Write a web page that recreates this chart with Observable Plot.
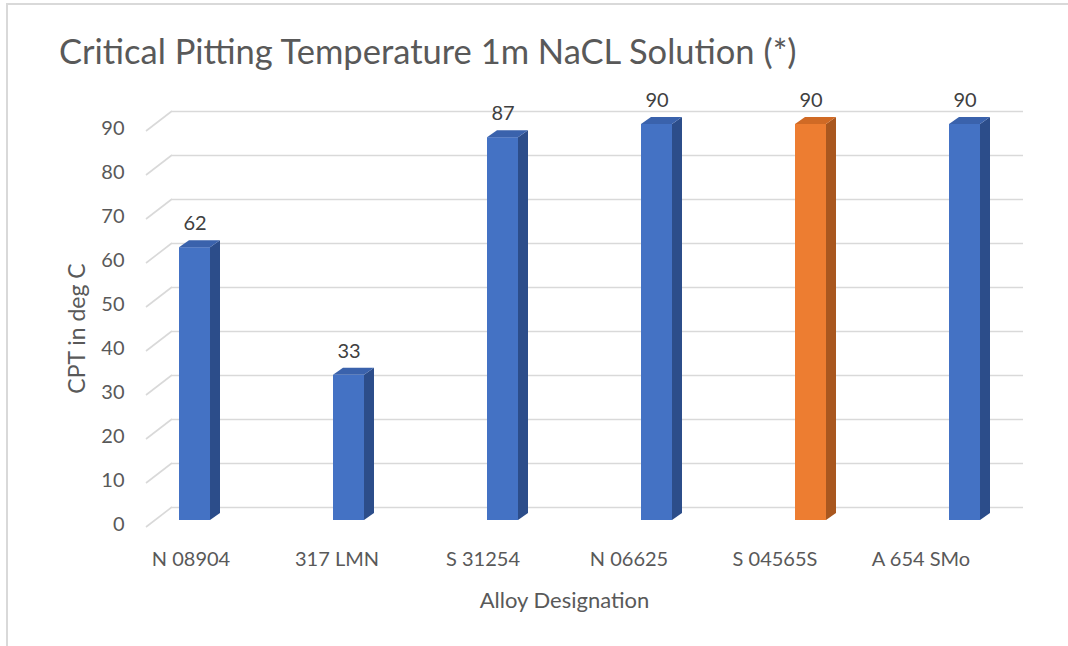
<!DOCTYPE html>
<html><head><meta charset="utf-8">
<script src="https://cdn.jsdelivr.net/npm/d3@7"></script>
<script src="https://cdn.jsdelivr.net/npm/@observablehq/plot@0.6"></script>
<style>
html,body{margin:0;padding:0;background:#fff;}
#wrap{position:relative;width:1068px;height:646px;overflow:hidden;font-family:Lato,"Open Sans",sans-serif;}
#border{position:absolute;left:6px;top:3px;width:1200px;height:800px;border-left:2px solid #d9d9d9;border-top:2px solid #d9d9d9;}
#title{position:absolute;left:59px;top:31px;font-size:34.5px;line-height:40px;color:#595959;white-space:nowrap;}
#main{position:absolute;left:0;top:90px;}
#xlab{position:absolute;left:0;top:540px;}
</style></head><body>
<div id="wrap"><div id="border"></div><div id="title"></div><div id="main"></div><div id="xlab"></div></div>
<script>
const titleText = "Critical Pitting Temperature 1m NaCL Solution (*)";
const yTitle = "CPT in deg C";
const xTitle = "Alloy Designation";
const categories = ["N 08904", "317 LMN", "S 31254", "N 06625", "S 04565S", "A 654 SMo"];
const cptValues = [62, 33, 87, 90, 90, 90];
const yTicks = [0, 10, 20, 30, 40, 50, 60, 70, 80, 90];
const highlighted = "S 04565S";

const rows = categories.map((cat, i) => ({cat, value: cptValues[i]}));
const pal = {
  blue: {front: "#4472C4", side: "#2C4D8A", top: "#3A62AC"},
  orange: {front: "#ED7D31", side: "#A9571F", top: "#D06A25"}
};
const colorOf = d => (d.cat === highlighted ? pal.orange : pal.blue);
const TXT = "#595959";
const GRID = "#d9d9d9";
const DEPTH_X = 10, DEPTH_Y = 7;

document.getElementById("title").textContent = titleText;

function gridDiagonals(index, scales, values, dims) {
  const y = scales.y;
  const g = d3.create("svg:g").attr("stroke", GRID).attr("stroke-width", 1.6);
  const xl = dims.marginLeft;
  yTicks.forEach(v => {
    g.append("line").attr("x1", xl - 26).attr("y1", y(v) + 7).attr("x2", xl).attr("y2", y(v) - 13);
  });
  return g.node();
}

function barFaces(index, scales, values, dims) {
  const x = scales.x, y = scales.y;
  const bw = x.bandwidth();
  const g = d3.create("svg:g");
  rows.forEach(d => {
    const x0 = x(d.cat), x1 = x0 + bw, yt = y(d.value), yb = y(0);
    const c = colorOf(d);
    g.append("path")
      .attr("d", `M${x1},${yt}L${x1 + DEPTH_X},${yt - DEPTH_Y}L${x1 + DEPTH_X},${yb - DEPTH_Y}L${x1},${yb}Z`)
      .attr("fill", c.side);
    g.append("path")
      .attr("d", `M${x0},${yt}L${x0 + DEPTH_X},${yt - DEPTH_Y}L${x1 + DEPTH_X},${yt - DEPTH_Y}L${x1},${yt}Z`)
      .attr("fill", c.top);
  });
  return g.node();
}

const main = Plot.plot({
  width: 1068,
  height: 450,
  marginTop: 34,
  marginBottom: 20,
  marginLeft: 172,
  marginRight: 45,
  style: {fontFamily: "Lato, 'Open Sans', sans-serif", background: "transparent", overflow: "visible"},
  x: {type: "band", domain: categories, range: [116.25, 1043.25], paddingInner: 0.8, paddingOuter: 0.4, axis: null},
  y: {domain: [0, 90], axis: null},
  marks: [
    Plot.ruleY(yTicks, {dy: -13, stroke: GRID, strokeWidth: 1.6}),
    gridDiagonals,
    Plot.barY(rows, {x: "cat", y: "value", fill: d => colorOf(d).front}),
    barFaces,
    Plot.text(rows, {x: "cat", y: "value", text: d => String(d.value), dy: -24, fontSize: 20, fill: "#404040"}),
    Plot.text(yTicks, {y: d => d, text: d => String(d), frameAnchor: "left", textAnchor: "end", dx: -48, dy: 4, fontSize: 20, fill: TXT}),
    Plot.text([yTitle], {text: d => d, frameAnchor: "left", textAnchor: "middle", rotate: -90, dx: -95, dy: 6, fontSize: 23, fill: TXT})
  ]
});
document.getElementById("main").appendChild(main);

const xlab = Plot.plot({
  width: 1068,
  height: 100,
  marginTop: 0,
  marginBottom: 0,
  marginLeft: 92,
  marginRight: 32,
  style: {fontFamily: "Lato, 'Open Sans', sans-serif", background: "transparent", overflow: "visible"},
  x: {type: "band", domain: categories, range: [116.25, 995.25], paddingInner: 0.8, paddingOuter: 0.4, axis: null},
  marks: [
    Plot.text(categories, {x: d => d, text: d => d, frameAnchor: "top", dy: 11, fontSize: 20, fill: TXT}),
    Plot.text([xTitle], {text: d => d, frameAnchor: "top", dy: 52, fontSize: 22, fill: TXT})
  ]
});
document.getElementById("xlab").appendChild(xlab);
</script>
</body></html>
